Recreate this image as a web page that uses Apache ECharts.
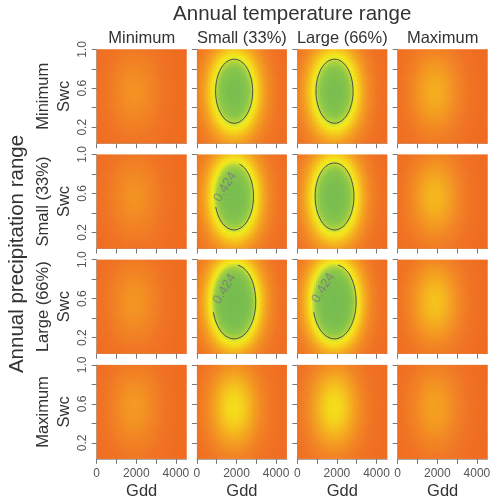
<!DOCTYPE html>
<html><head><meta charset="utf-8">
<script src="https://cdn.jsdelivr.net/npm/echarts@6/dist/echarts.min.js"></script>
<style>html,body{margin:0;padding:0;background:#fff}#c{width:498px;height:499px}</style>
</head><body><div id="c"></div>
<script>
// ---------------- data ----------------
const mainTitle = 'Annual temperature range';
const sideTitle = 'Annual precipitation range';
const colTitles = ['Minimum', 'Small (33%)', 'Large (66%)', 'Maximum'];
const rowTitles = ['Minimum', 'Small (33%)', 'Large (66%)', 'Maximum'];
const xName = 'Gdd';
const yName = 'Swc';

// Gdd grid and relative response profile along Gdd
const gddValues = [0,100,200,300,400,500,600,700,800,900,1000,1100,1200,1300,1400,1500,1600,1700,1800,1900,
  2000,2100,2200,2300,2400,2500,2600,2700,2800,2900,3000,3100,3200,3300,3400,3500,3600,3700,3800,3900,
  4000,4100,4200,4300,4400,4500,4600];
const gddProfile = [0.246,0.285,0.327,0.372,0.420,0.470,0.522,0.576,0.630,0.683,0.736,0.786,0.833,0.875,0.913,0.944,0.969,0.987,0.997,1.000,
  0.994,0.981,0.960,0.932,0.898,0.859,0.814,0.766,0.715,0.662,0.608,0.554,0.501,0.450,0.400,0.353,0.309,0.269,0.232,0.198,
  0.168,0.142,0.118,0.098,0.081,0.066,0.053];

// Swc grid and relative response profile along Swc
const swcValues = [0.025,0.05,0.075,0.1,0.125,0.15,0.175,0.2,0.225,0.25,0.275,0.3,0.325,0.35,0.375,0.4,0.425,0.45,0.475,0.5,
  0.525,0.55,0.575,0.6,0.625,0.65,0.675,0.7,0.725,0.75,0.775,0.8,0.825,0.85,0.875,0.9,0.925,0.95,0.975,1.0];
const swcProfile = [0.370,0.405,0.442,0.481,0.522,0.563,0.604,0.644,0.684,0.721,0.758,0.793,0.826,0.857,0.886,0.912,0.935,0.955,0.972,0.985,
  0.994,0.999,1.000,0.997,0.990,0.980,0.965,0.948,0.926,0.902,0.875,0.845,0.813,0.779,0.743,0.705,0.664,0.621,0.578,0.535];

// peak value of each panel (rows = precipitation range, cols = temperature range)
const peakRow1 = [0.20, 0.60, 0.60, 0.27];
const peakRow2 = [0.20, 0.62, 0.62, 0.29];
const peakRow3 = [0.21, 0.68, 0.68, 0.31];
const peakRow4 = [0.22, 0.36, 0.36, 0.24];

const contourLevel = 0.424;
const contourLabelText = '0.424';

const xTicks = [0, 1000, 2000, 3000, 4000];
const xTickLabels = [0, 2000, 4000];
const yTicks = [0.2, 0.4, 0.6, 0.8, 1.0];
const yTickLabels = [0.2, 0.6, 1.0];

// ---------------- layout / style ----------------
const FONT = '"Liberation Sans", Arial, Helvetica, sans-serif';
const colLeft = [96.7, 196.9, 297.3, 397.7];
const rowTop = [49.3, 154.5, 259.7, 364.9];
const panelW = 90, panelH = 94;
const X_MIN = 0, X_MAX = 4545, Y_MIN = 0.035, Y_MAX = 1.0;

// contour label placement (panel row, col, label anchor, gap in angle degrees)
const contourLabels = [
  {row: 1, col: 1, at: [1429, 0.666], gap: [76, 199]},
  {row: 2, col: 1, at: [1400, 0.70], gap: [82, 197]},
  {row: 2, col: 2, at: [1313, 0.709], gap: [82, 197]}
];

const colorStops = [
  [0.00, '#EF6B21'], [0.08, '#F07424'], [0.16, '#F28524'], [0.24, '#F4A021'],
  [0.30, '#F5BC1E'], [0.35, '#F5D81C'], [0.39, '#F2EA1E'], [0.42, '#CFE131'],
  [0.45, '#A8D13F'], [0.50, '#8AC64A'], [0.58, '#7CBF4F'], [0.75, '#72BA50']
];
const V_MAX = 0.75;

function hex2rgb(h){return [parseInt(h.slice(1,3),16),parseInt(h.slice(3,5),16),parseInt(h.slice(5,7),16)];}
function colorAt(v){
  for(let i=1;i<colorStops.length;i++){
    if(v<=colorStops[i][0]){
      const a=colorStops[i-1], b=colorStops[i];
      const t=(v-a[0])/(b[0]-a[0]);
      const ca=hex2rgb(a[1]), cb=hex2rgb(b[1]);
      return 'rgb('+ca.map((c,k)=>Math.round(c+(cb[k]-c)*t)).join(',')+')';
    }
  }
  return colorStops[colorStops.length-1][1];
}
const rampColors = [];
for(let i=0;i<=150;i++) rampColors.push(colorAt(V_MAX*i/150));

function interp(xs, ys, x){
  if(x<=xs[0]) return ys[0];
  const n=xs.length;
  if(x>=xs[n-1]) return ys[n-1];
  for(let i=1;i<n;i++){
    if(x<=xs[i]){const t=(x-xs[i-1])/(xs[i]-xs[i-1]);return ys[i-1]+t*(ys[i]-ys[i-1]);}
  }
}
function field(a, g, s){ return a*interp(gddValues,gddProfile,g)*interp(swcValues,swcProfile,s); }

const peaks = [peakRow1, peakRow2, peakRow3, peakRow4];
const halfG = (gddValues[1]-gddValues[0])/2;
const halfS = (swcValues[1]-swcValues[0])/2;
const cx = gddValues[gddProfile.indexOf(Math.max(...gddProfile))];
const cy = swcValues[swcProfile.indexOf(Math.max(...swcProfile))];
const sx = 936, sy = 0.33;

function contourPoints(a, gap){
  const pts=[];
  let start=0, end=360;
  if(gap){ start=gap[1]; end=gap[0]+360; }
  for(let d=start; d<=end+0.001; d+=2){
    const th=d*Math.PI/180;
    let lo=0, hi=4;
    for(let k=0;k<40;k++){
      const m=(lo+hi)/2;
      const v=field(a, cx+m*Math.cos(th)*sx, cy+m*Math.sin(th)*sy);
      if(v>contourLevel) lo=m; else hi=m;
    }
    pts.push([cx+lo*Math.cos(th)*sx, cy+lo*Math.sin(th)*sy]);
  }
  return pts;
}

function renderCell(params, api){
  const g=api.value(0), s=api.value(1);
  const p0=api.coord([g-halfG, s+halfS]);
  const p1=api.coord([g+halfG, s-halfS]);
  const cs=params.coordSys;
  const r=echarts.graphic.clipRectByRect(
    {x:p0[0], y:p0[1], width:p1[0]-p0[0]+0.7, height:p1[1]-p0[1]+0.7},
    {x:cs.x, y:cs.y, width:cs.width, height:cs.height});
  if(!r) return;
  return {type:'rect', shape:r, style:{fill:api.visual('color')}, silent:true};
}

const grids=[], xAxes=[], yAxes=[], series=[], heatIdx=[], graphics=[];
const textColor='#333', tickColor='#777', labelColor='#555';

for(let r=0;r<4;r++){
  for(let c=0;c<4;c++){
    const k=r*4+c;
    grids.push({left:colLeft[c], top:rowTop[r], width:panelW, height:panelH});
    xAxes.push({type:'value', gridIndex:k, min:X_MIN, max:X_MAX,
      axisLine:{show:true, lineStyle:{color:'#aaa', width:1}},
      axisTick:{show:true, customValues:xTicks, length:5, lineStyle:{color:tickColor}},
      axisLabel:{show:r===3, customValues:xTickLabels, color:labelColor, fontSize:12, fontFamily:FONT, margin:9,
        formatter:v=>String(Math.round(v))},
      splitLine:{show:false}});
    yAxes.push({type:'value', gridIndex:k, min:Y_MIN, max:Y_MAX,
      axisLine:{show:true, lineStyle:{color:'#aaa', width:1}},
      axisTick:{show:true, customValues:yTicks, length:5, lineStyle:{color:tickColor}},
      axisLabel:{show:c===0, customValues:yTickLabels, rotate:90, color:labelColor, fontSize:12, fontFamily:FONT, margin:8,
        formatter:v=>Number(v).toFixed(1)},
      splitLine:{show:false}});
    const a=peaks[r][c];
    const data=[];
    for(let i=0;i<gddValues.length;i++)
      for(let j=0;j<swcValues.length;j++)
        data.push([gddValues[i], swcValues[j], +(a*gddProfile[i]*swcProfile[j]).toFixed(4)]);
    heatIdx.push(series.length);
    series.push({type:'custom', xAxisIndex:k, yAxisIndex:k, data, renderItem:renderCell,
      encode:{x:0,y:1}, silent:true, animation:false, z:1});
  }
}
// contours
for(let r=0;r<4;r++){
  for(let c=0;c<4;c++){
    const k=r*4+c, a=peaks[r][c];
    if(a<=contourLevel) continue;
    const lab=contourLabels.find(o=>o.row===r && o.col===c);
    series.push({type:'line', xAxisIndex:k, yAxisIndex:k, data:contourPoints(a, lab?lab.gap:null),
      showSymbol:false, symbol:'none', smooth:false, lineStyle:{color:'#4a4a4a', width:1}, silent:true, animation:false, z:3});
    if(lab){
      series.push({type:'scatter', xAxisIndex:k, yAxisIndex:k, data:[lab.at], symbolSize:1,
        itemStyle:{color:'rgba(0,0,0,0)'}, silent:true, animation:false, z:4,
        label:{show:true, position:'inside', formatter:contourLabelText, rotate:59, color:'#7a7a7a', fontSize:13, fontFamily:FONT}});
    }
  }
}

// texts
graphics.push({type:'text', x:292.2, y:14, style:{text:mainTitle, font:'20.5px '+FONT, fill:textColor, textAlign:'center', textVerticalAlign:'middle'}});
graphics.push({type:'text', x:17, y:254, rotation:Math.PI/2, style:{text:sideTitle, font:'20.5px '+FONT, fill:textColor, textAlign:'center', textVerticalAlign:'middle'}});
for(let c=0;c<4;c++){
  graphics.push({type:'text', x:colLeft[c]+panelW/2, y:38, style:{text:colTitles[c], font:'16.5px '+FONT, fill:textColor, textAlign:'center', textVerticalAlign:'middle'}});
  graphics.push({type:'text', x:colLeft[c]+panelW/2, y:491, style:{text:xName, font:'16.5px '+FONT, fill:textColor, textAlign:'center', textVerticalAlign:'middle'}});
}
for(let r=0;r<4;r++){
  const yc=rowTop[r]+panelH/2;
  graphics.push({type:'text', x:43, y:yc, rotation:Math.PI/2, style:{text:rowTitles[r], font:'16.5px '+FONT, fill:textColor, textAlign:'center', textVerticalAlign:'middle'}});
  graphics.push({type:'text', x:64, y:yc, rotation:Math.PI/2, style:{text:yName, font:'16.5px '+FONT, fill:textColor, textAlign:'center', textVerticalAlign:'middle'}});
}

const chart=echarts.init(document.getElementById('c'), null, {renderer:'canvas'});
chart.setOption({
  animation:false,
  backgroundColor:'#fff',
  textStyle:{fontFamily:FONT},
  grid:grids, xAxis:xAxes, yAxis:yAxes,
  visualMap:{type:'continuous', show:false, min:0, max:V_MAX, dimension:2, seriesIndex:heatIdx,
    inRange:{color:rampColors}},
  series,
  graphic:graphics
});
</script></body></html>
